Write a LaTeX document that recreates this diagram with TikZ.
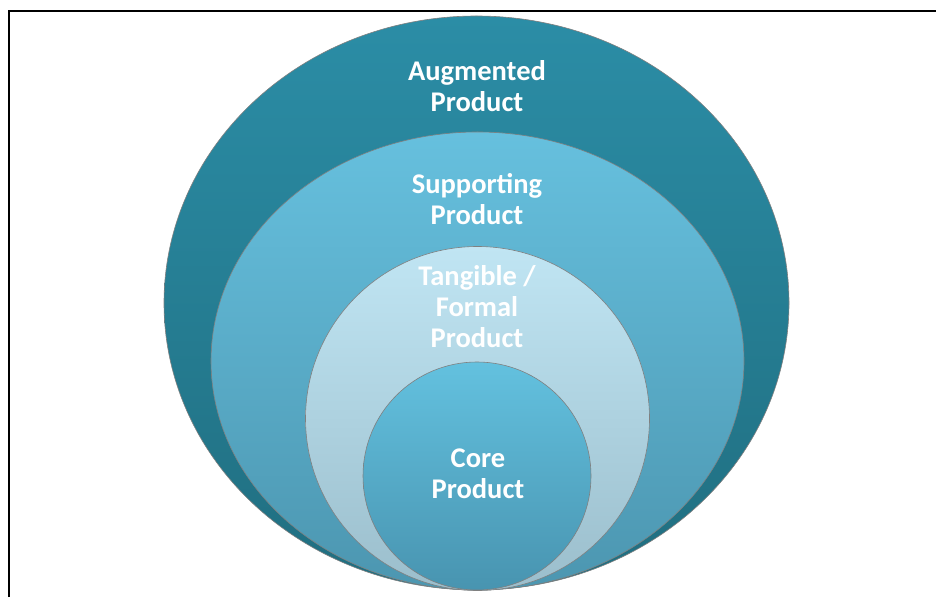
\documentclass[tikz,border=0pt]{standalone}
\usepackage{fontspec}
\setmainfont{Carlito}
\usepackage{tikz}

\definecolor{augtop}{RGB}{43,141,166}
\definecolor{augbot}{RGB}{32,110,128}
\definecolor{suptop}{RGB}{102,192,222}
\definecolor{supbot}{RGB}{76,150,176}
\definecolor{tantop}{RGB}{192,229,243}
\definecolor{tanbot}{RGB}{155,190,204}
\definecolor{cortop}{RGB}{99,193,223}
\definecolor{corbot}{RGB}{72,148,176}

\begin{document}
\begin{tikzpicture}[
  x=1pt, y=1pt,
  frameline/.style={line width=1.8pt, black},
  ringlayer/.style={draw=black!50, line width=0.6pt},
  ringtext/.style={text=white, align=center, font=\fontsize{28.5}{31}\selectfont\bfseries}
]
\useasboundingbox (0,0) rectangle (936,597);

% Frame (runs off the right and bottom)
\draw[frameline] (9,0) |- (936,586);

% Layers, outside in
\path[ringlayer, top color=augtop, bottom color=augbot] (476.5,294) ellipse [x radius=312.5, y radius=287];
\path[ringlayer, top color=suptop, bottom color=supbot] (477.5,236) ellipse [x radius=266.5, y radius=229];
\path[ringlayer, top color=tantop, bottom color=tanbot] (477.5,178.5) circle [radius=172];
\path[ringlayer, top color=cortop, bottom color=corbot] (477,121) circle [radius=114];

% Labels
\node[ringtext] (augmented) at (477,511) {Augmented\\Product};
\node[ringtext] (supporting) at (477,398) {Supporting\\Product};
\node[ringtext] (tangible) at (477,290) {Tangible /\\Formal\\Product};
\node[ringtext] (core) at (478,123) {Core\\Product};

\end{tikzpicture}
\end{document}
